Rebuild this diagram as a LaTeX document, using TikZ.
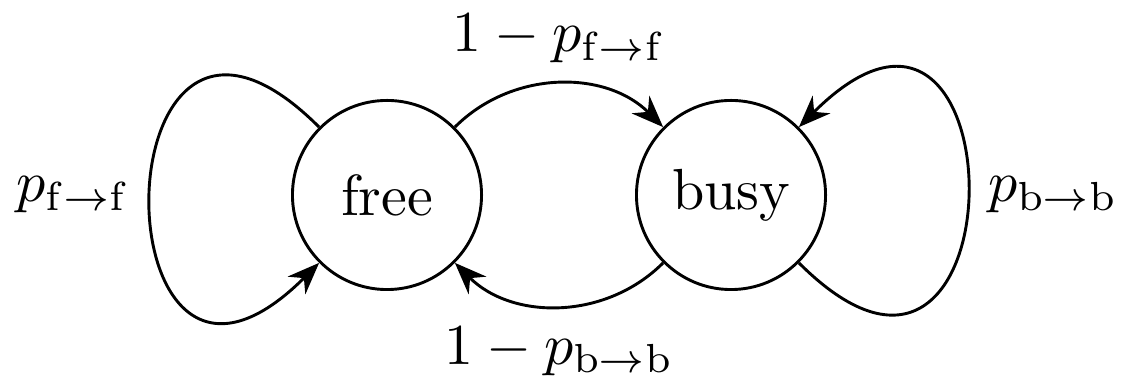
\documentclass[tikz,border=0pt]{standalone}
\usetikzlibrary{arrows.meta}
\begin{document}
\begin{tikzpicture}[x=0.1724pt,y=0.1724pt,
  state/.style={circle,draw,line width=0.5pt,minimum size=32.6pt,inner sep=0pt},
  trans/.style={-{Stealth[length=5.5pt,width=4.3pt]},line width=0.5pt}]
\path[use as bounding box] (0,0) rectangle (1121,378);
\node[state] (free) at (387,183) {free};
\node[state] (busy) at (731,183) {busy};
\draw[trans] (free) to[bend left=45] node[above] {$1-p_{\mathrm{f}\to\mathrm{f}}$} (busy);
\draw[trans] (busy) to[bend left=45] node[below] {$1-p_{\mathrm{b}\to\mathrm{b}}$} (free);
\draw[trans] (free) to[out=135,in=225,looseness=6] node[left] {$p_{\mathrm{f}\to\mathrm{f}}$} (free);
\draw[trans] (busy) to[out=-45,in=45,looseness=6] node[right] {$p_{\mathrm{b}\to\mathrm{b}}$} (busy);
\end{tikzpicture}
\end{document}
